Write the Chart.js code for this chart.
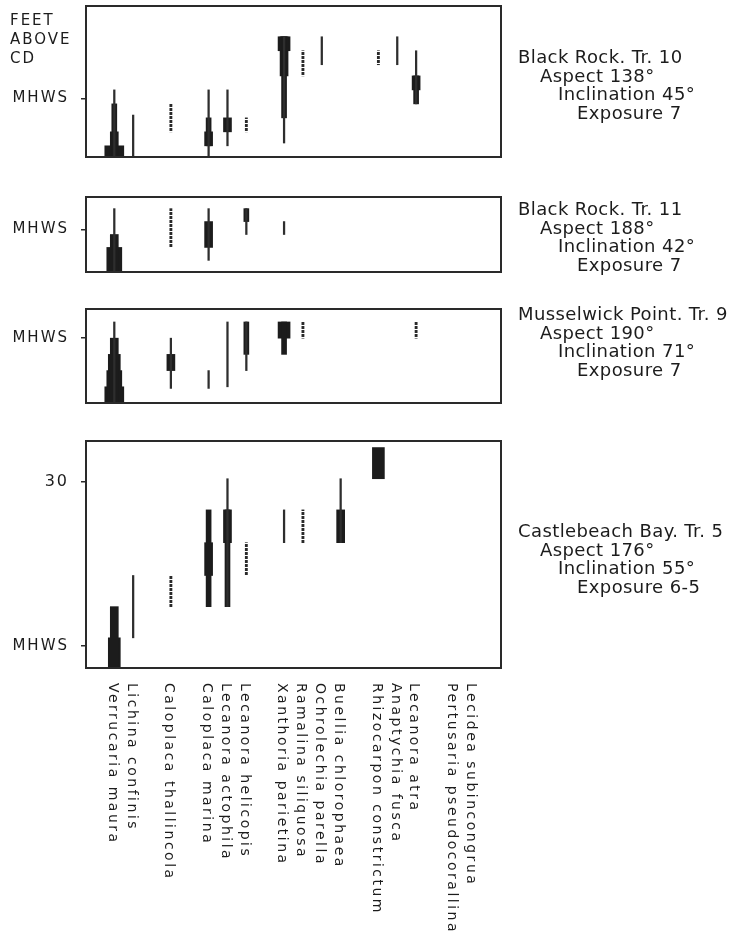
<!DOCTYPE html>
<html>
<head>
<meta charset="utf-8">
<script src="https://cdn.jsdelivr.net/npm/chart.js@4.4.0/dist/chart.umd.min.js"></script>
<style>
  body { margin: 0; background: #fff; }
  #page { position: relative; width: 733px; height: 941px; overflow: hidden; }
  canvas { position: absolute; left: 0; }
</style>
</head>
<body>
<div id="page">
  <canvas id="tr10" width="733" height="175" style="top:0"></canvas>
  <canvas id="tr11" width="733" height="105" style="top:180px"></canvas>
  <canvas id="tr9" width="733" height="125" style="top:290px"></canvas>
  <canvas id="tr5" width="733" height="521" style="top:420px"></canvas>
</div>
<script>
// species along the foot, blanks keep the gaps of the original spacing
var species = ['', 'Verrucaria maura', 'Lichina confinis', '', 'Caloplaca thallincola', '',
  'Caloplaca marina', 'Lecanora actophila', 'Lecanora helicopis', '',
  'Xanthoria parietina', 'Ramalina siliquosa', 'Ochrolechia parella', 'Buellia chlorophaea', '',
  'Rhizocarpon constrictum', 'Anaptychia fusca', 'Lecanora atra', '',
  'Pertusaria pseudocorallina', 'Lecidea subincongrua', ''];

// abundance grades, thinnest to thickest band
var grades = ['trace', 'rare', 'occasional', 'frequent', 'common', 'abundant', 'dominant'];

// [species, grade, from ft, to ft] - each grade covers the range where abundance is at least that grade
var tr10Bands = [
  ['Verrucaria maura', 'rare', 22.9, 25.3],
  ['Verrucaria maura', 'occasional', 22.9, 24.8],
  ['Verrucaria maura', 'frequent', 22.9, 23.8],
  ['Verrucaria maura', 'dominant', 22.9, 23.3],
  ['Lichina confinis', 'rare', 22.9, 24.4],
  ['Caloplaca thallincola', 'trace', 23.8, 24.8],
  ['Caloplaca marina', 'rare', 22.9, 25.3],
  ['Caloplaca marina', 'occasional', 23.3, 24.3],
  ['Caloplaca marina', 'frequent', 23.3, 23.8],
  ['Lecanora actophila', 'rare', 23.3, 25.3],
  ['Lecanora actophila', 'frequent', 23.8, 24.3],
  ['Lecanora helicopis', 'trace', 23.8, 24.3],
  ['Xanthoria parietina', 'rare', 23.4, 27.2],
  ['Xanthoria parietina', 'occasional', 24.3, 27.2],
  ['Xanthoria parietina', 'frequent', 25.8, 27.2],
  ['Xanthoria parietina', 'common', 26.7, 27.2],
  ['Ramalina siliquosa', 'trace', 25.8, 26.7],
  ['Ochrolechia parella', 'rare', 26.2, 27.2],
  ['Rhizocarpon constrictum', 'trace', 26.2, 26.7],
  ['Anaptychia fusca', 'rare', 26.2, 27.2],
  ['Lecanora atra', 'rare', 24.8, 26.7],
  ['Lecanora atra', 'occasional', 24.8, 25.8],
  ['Lecanora atra', 'frequent', 25.3, 25.8]
];

var tr11Bands = [
  ['Verrucaria maura', 'rare', 23.35, 25.8],
  ['Verrucaria maura', 'frequent', 23.35, 24.8],
  ['Verrucaria maura', 'abundant', 23.35, 24.3],
  ['Caloplaca thallincola', 'trace', 24.3, 25.8],
  ['Caloplaca marina', 'rare', 23.8, 25.8],
  ['Caloplaca marina', 'frequent', 24.3, 25.3],
  ['Lecanora helicopis', 'rare', 24.8, 25.8],
  ['Lecanora helicopis', 'occasional', 25.3, 25.8],
  ['Xanthoria parietina', 'rare', 24.8, 25.3]
];

var tr9Bands = [
  ['Verrucaria maura', 'rare', 23.0, 25.5],
  ['Verrucaria maura', 'frequent', 23.0, 25.0],
  ['Verrucaria maura', 'common', 23.0, 24.5],
  ['Verrucaria maura', 'abundant', 23.0, 24.0],
  ['Verrucaria maura', 'dominant', 23.0, 23.5],
  ['Caloplaca thallincola', 'rare', 23.45, 25.0],
  ['Caloplaca thallincola', 'frequent', 24.0, 24.5],
  ['Caloplaca marina', 'rare', 23.45, 24.0],
  ['Lecanora actophila', 'rare', 23.5, 25.5],
  ['Lecanora helicopis', 'rare', 24.0, 25.5],
  ['Lecanora helicopis', 'occasional', 24.5, 25.5],
  ['Xanthoria parietina', 'occasional', 24.5, 25.5],
  ['Xanthoria parietina', 'common', 25.0, 25.5],
  ['Ramalina siliquosa', 'trace', 25.0, 25.5],
  ['Lecanora atra', 'trace', 25.0, 25.5]
];

var tr5Bands = [
  ['Verrucaria maura', 'frequent', 24.33, 26.2],
  ['Verrucaria maura', 'common', 24.33, 25.25],
  ['Lichina confinis', 'rare', 25.25, 27.15],
  ['Caloplaca thallincola', 'trace', 26.2, 27.15],
  ['Caloplaca marina', 'occasional', 26.2, 29.15],
  ['Caloplaca marina', 'frequent', 27.15, 28.15],
  ['Lecanora actophila', 'rare', 26.2, 30.1],
  ['Lecanora actophila', 'occasional', 26.2, 29.15],
  ['Lecanora actophila', 'frequent', 28.15, 29.15],
  ['Lecanora helicopis', 'trace', 27.15, 28.15],
  ['Xanthoria parietina', 'rare', 28.15, 29.15],
  ['Ramalina siliquosa', 'trace', 28.15, 29.15],
  ['Buellia chlorophaea', 'rare', 28.15, 30.1],
  ['Buellia chlorophaea', 'frequent', 28.15, 29.15],
  ['Rhizocarpon constrictum', 'common', 30.1, 31.05]
];

// y ticks [feet, label]
var tr10Ticks = [[25, 'MHWS']];
var tr11Ticks = [[25, 'MHWS']];
var tr9Ticks = [[25, 'MHWS']];
var tr5Ticks = [[25, 'MHWS'], [30, '30']];

var tr10Site = ['Black Rock. Tr. 10', 'Aspect 138°', 'Inclination 45°', 'Exposure 7'];
var tr11Site = ['Black Rock. Tr. 11', 'Aspect 188°', 'Inclination 42°', 'Exposure 7'];
var tr9Site = ['Musselwick Point. Tr. 9', 'Aspect 190°', 'Inclination 71°', 'Exposure 7'];
var tr5Site = ['Castlebeach Bay. Tr. 5', 'Aspect 176°', 'Inclination 55°', 'Exposure 6-5'];

var yAxisTitle = ['FEET', 'ABOVE', 'CD'];

var ink = '#1c1c1c';
var font = 'DejaVu Sans';

var dotted = (function () {
  var c = document.createElement('canvas');
  c.width = 4; c.height = 4;
  var g = c.getContext('2d');
  g.fillStyle = '#2a2a2a';
  g.fillRect(0, 0, 4, 3);
  return g.createPattern(c, 'repeat');
})();

var gradeStyle = {
  trace: { w: 2.2, fill: dotted },
  rare: { w: 1.6, fill: '#2e2e2e' },
  occasional: { w: 5, fill: ink },
  frequent: { w: 8, fill: ink },
  common: { w: 12, fill: ink },
  abundant: { w: 15, fill: ink },
  dominant: { w: 19, fill: ink }
};

var makeDatasets = function (bands) {
  return grades.map(function (grade) {
    var data = species.map(function (name) {
      var hit = bands.filter(function (b) { return name && b[0] === name && b[1] === grade; })[0];
      return hit ? [hit[2], hit[3]] : null;
    });
    return {
      label: grade,
      data: data,
      backgroundColor: gradeStyle[grade].fill,
      barThickness: gradeStyle[grade].w,
      grouped: false,
      borderWidth: 0
    };
  });
};

var framePlugin = {
  id: 'frame',
  beforeDraw: function (chart) {
    chart.ctx.letterSpacing = '2px';
  },
  afterDraw: function (chart) {
    var ctx = chart.ctx, ca = chart.chartArea;
    ctx.save();
    ctx.strokeStyle = '#2a2a2a';
    ctx.lineWidth = 2;
    ctx.strokeRect(ca.left, ca.top, ca.right - ca.left, ca.bottom - ca.top);
    ctx.restore();
  }
};

var sitePlugin = {
  id: 'site',
  afterDraw: function (chart, args, opts) {
    var ctx = chart.ctx;
    var xs = [518, 540, 558, 577];
    ctx.save();
    ctx.fillStyle = ink;
    ctx.font = '18px "' + font + '"';
    ctx.letterSpacing = '0.4px';
    ctx.textAlign = 'left';
    ctx.textBaseline = 'alphabetic';
    opts.lines.forEach(function (line, i) {
      ctx.fillText(line, xs[i], opts.baseline + i * 18.5);
    });
    if (opts.title) {
      ctx.font = '15px "' + font + '"';
      ctx.letterSpacing = '2px';
      [25, 44, 63].forEach(function (y, i) {
        ctx.fillText(yAxisTitle[i], 10, y);
      });
    }
    ctx.restore();
  }
};

var namesPlugin = {
  id: 'names',
  afterDraw: function (chart) {
    var ctx = chart.ctx, xs = chart.scales.x;
    ctx.save();
    ctx.fillStyle = ink;
    ctx.font = '14px "' + font + '"';
    ctx.letterSpacing = '2.5px';
    ctx.textAlign = 'left';
    ctx.textBaseline = 'middle';
    species.forEach(function (name, i) {
      if (!name) return;
      ctx.save();
      ctx.translate(xs.getPixelForValue(i) - 2, chart.chartArea.bottom + 15);
      ctx.rotate(Math.PI / 2);
      ctx.fillText(name, 0, 0);
      ctx.restore();
    });
    ctx.restore();
  }
};

var drawPanel = function (id, bands, yMin, yMax, ticks, site, pad, extra) {
  var plugins = [framePlugin, sitePlugin];
  if (extra) plugins.push(extra);
  return new Chart(document.getElementById(id), {
    type: 'bar',
    data: { labels: species, datasets: makeDatasets(bands) },
    options: {
      responsive: false,
      animation: false,
      layout: { padding: { top: pad[0], bottom: pad[1], left: 0, right: 232 } },
      plugins: {
        legend: { display: false },
        tooltip: { enabled: false },
        site: { lines: site, baseline: pad[2], title: id === 'tr10' }
      },
      scales: {
        x: { display: false },
        y: {
          min: yMin,
          max: yMax,
          afterFit: function (s) {
            s.width = 86;
            s.paddingTop = 0;
            s.paddingBottom = 0;
          },
          afterBuildTicks: function (s) {
            s.ticks = ticks.map(function (t) { return { value: t[0] }; });
          },
          ticks: {
            color: ink,
            padding: 12,
            callback: function (v) {
              var t = ticks.filter(function (t) { return t[0] === v; })[0];
              return t ? t[1] : '';
            },
            font: function (c) {
              return { family: font, size: c.tick && c.tick.label === '30' ? 16 : 15 };
            }
          },
          grid: { drawOnChartArea: false, tickLength: 5, color: '#2a2a2a', lineWidth: 1.5 },
          border: { display: false }
        }
      }
    },
    plugins: plugins
  });
};

// [padding top, padding bottom, first site baseline]
drawPanel('tr10', tr10Bands, 22.9, 28.3, tr10Ticks, tr10Site, [6, 18, 63]);
drawPanel('tr11', tr11Bands, 23.35, 26.25, tr11Ticks, tr11Site, [17, 13, 35]);
drawPanel('tr9', tr9Bands, 23.0, 25.9, tr9Ticks, tr9Site, [19, 12, 30]);
drawPanel('tr5', tr5Bands, 24.33, 31.25, tr5Ticks, tr5Site, [21, 273, 117], namesPlugin);
</script>
</body>
</html>
